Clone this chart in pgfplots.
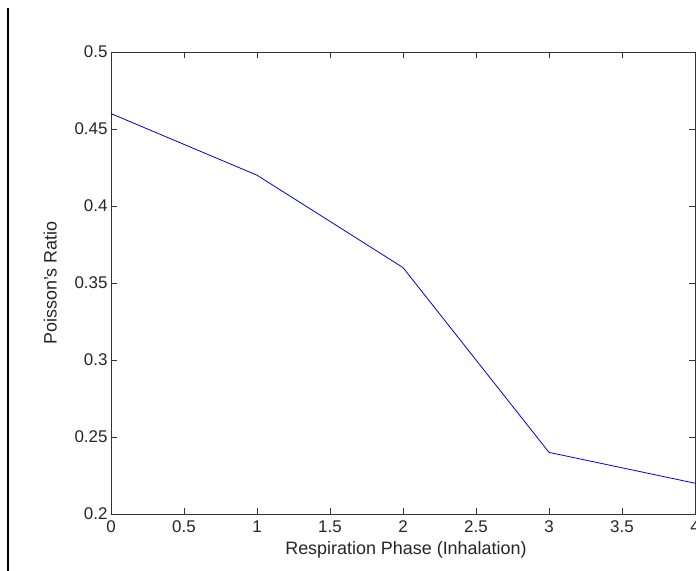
\documentclass[border=0pt]{standalone}
\usepackage{pgfplots}
\pgfplotsset{compat=1.18}
\usepackage{fontspec}
\setmainfont{Liberation Sans}
\begin{document}
\begin{tikzpicture}[x=1bp,y=1bp]
\useasboundingbox (0,0) rectangle (696,571);
\clip (0,0) rectangle (696,571);
\fill[white] (0,0) rectangle (696,571);
\draw[line width=1.2bp, black] (8,0) -- (8,563);
\begin{axis}[
  at={(111bp,57bp)}, anchor=south west,
  scale only axis, width=584bp, height=462bp,
  xmin=0, xmax=4, ymin=0.2, ymax=0.5,
  xtick={0,0.5,1,1.5,2,2.5,3,3.5,4},
  xticklabels={0,0.5,1,1.5,2,2.5,3,3.5,4},
  ytick={0.2,0.25,0.3,0.35,0.4,0.45,0.5},
  yticklabels={0.2,0.25,0.3,0.35,0.4,0.45,0.5},
  tick align=inside,
  major tick length=6bp,
  axis line style={black!80, line width=0.8bp},
  tick style={black!80, line width=0.8bp},
  font=\fontsize{18}{21}\selectfont,
  ticklabel style={font=\fontsize{17}{20}\selectfont, text=black!85},
  xticklabel style={yshift=-3bp},
  yticklabel style={xshift=0bp},
  xlabel={Respiration Phase (Inhalation)},
  ylabel={Poisson's Ratio},
  xlabel style={at={(axis description cs:0.505,-0.078)}, anchor=center, text=black!85},
  ylabel style={at={(axis description cs:-0.104,0.5)}, anchor=center, rotate=0, text=black!85},
  clip=false,
]
\addplot[blue!85!black, line width=0.8bp] coordinates {
  (0,0.46) (1,0.42) (2,0.36) (3,0.24) (4,0.22)
};
\end{axis}
\end{tikzpicture}
\end{document}
